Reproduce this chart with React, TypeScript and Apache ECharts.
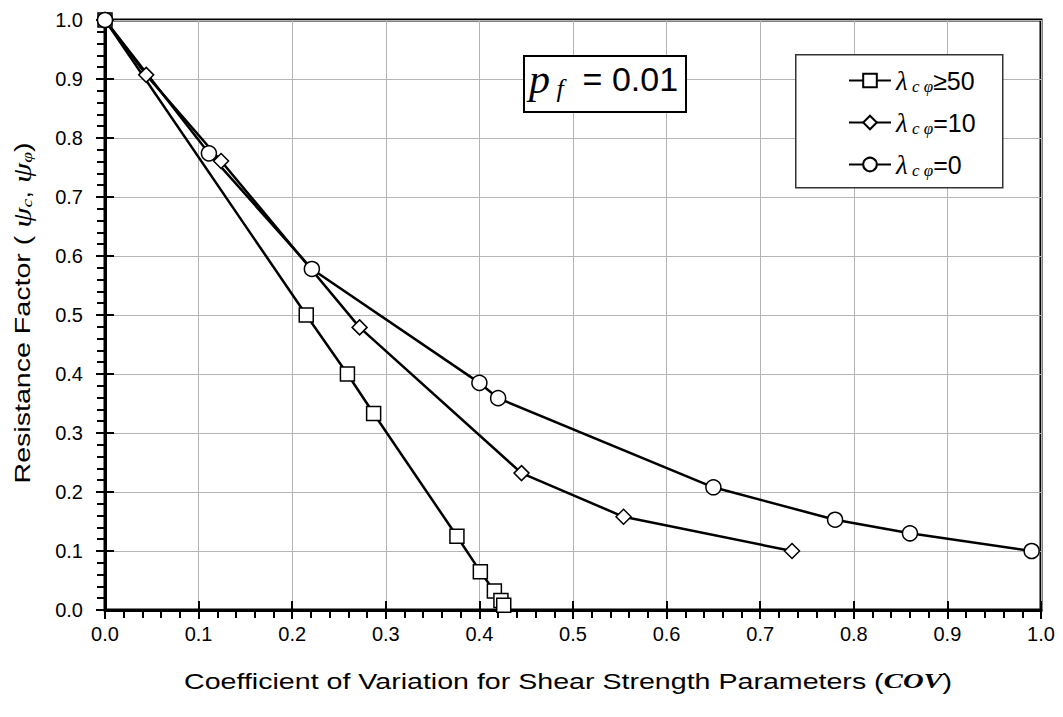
import React, { useEffect, useRef } from "react";
import * as echarts from "echarts";

const seriesNames = ["λcφ≥50", "λcφ=10", "λcφ=0"];
const seriesSuffix = ["≥50", "=10", "=0"];
const seriesSymbols = ["rect", "diamond", "circle"];

const covSquare = [0, 0.215, 0.259, 0.287, 0.376, 0.401, 0.416, 0.423, 0.426];
const psiSquare = [1.0, 0.5, 0.4, 0.333, 0.125, 0.065, 0.032, 0.016, 0.008];

const covDiamond = [0, 0.044, 0.124, 0.272, 0.445, 0.554, 0.734];
const psiDiamond = [1.0, 0.907, 0.761, 0.479, 0.232, 0.158, 0.1];

const covCircle = [0, 0.111, 0.221, 0.4, 0.42, 0.65, 0.78, 0.86, 0.99];
const psiCircle = [1.0, 0.774, 0.578, 0.385, 0.359, 0.208, 0.153, 0.13, 0.1];

const xTitle = "Coefficient of Variation for Shear Strength Parameters (";
const yTitle = "Resistance Factor ( ";

const SANS = "'Liberation Sans', Arial, sans-serif";
const SERIF = "'Liberation Serif', 'Times New Roman', serif";

export default function App() {
  const ref = useRef<HTMLDivElement>(null);
  useEffect(() => {
    document.body.style.margin = "0";
    const chart = echarts.init(ref.current!, null, { renderer: "svg" });
    const xs = [covSquare, covDiamond, covCircle];
    const ys = [psiSquare, psiDiamond, psiCircle];
    const sizes: any[] = [14, [15, 15], 15];
    const tickLine = { color: "#000", width: 2 };
    const option: any = {
      animation: false,
      backgroundColor: "#fff",
      grid: {
        left: 105,
        right: 22,
        top: 20,
        bottom: 107,
        show: true,
        borderColor: "#000",
        borderWidth: 3,
        backgroundColor: "transparent",
      },
      xAxis: [
        {
          type: "value",
          min: 0,
          max: 1,
          interval: 0.1,
          position: "bottom",
          axisLine: { show: true, lineStyle: { color: "#000", width: 3 } },
          axisTick: { show: true, length: 9, lineStyle: tickLine },
          minorTick: { show: true, splitNumber: 5, length: 8, lineStyle: tickLine },
          splitLine: { show: true, lineStyle: { color: "#b4b4b4", width: 1 } },
          axisLabel: {
            margin: 14,
            fontSize: 20,
            color: "#000",
            fontFamily: SANS,
            formatter: (v: number) => v.toFixed(1),
          },
        },
        {
          type: "value",
          min: 0,
          max: 1,
          interval: 0.1,
          position: "bottom",
          axisLine: { show: false },
          axisTick: { show: true, inside: true, length: 9, lineStyle: tickLine },
          splitLine: { show: false },
          axisLabel: { show: false },
        },
      ],
      yAxis: [
        {
          type: "value",
          min: 0,
          max: 1,
          interval: 0.1,
          position: "left",
          axisLine: { show: true, lineStyle: { color: "#000", width: 3 } },
          axisTick: { show: true, length: 9, lineStyle: tickLine },
          minorTick: { show: true, splitNumber: 5, length: 8, lineStyle: tickLine },
          splitLine: { show: true, lineStyle: { color: "#b4b4b4", width: 1 } },
          axisLabel: {
            margin: 22,
            fontSize: 20,
            color: "#000",
            fontFamily: SANS,
            formatter: (v: number) => v.toFixed(1),
          },
        },
        {
          type: "value",
          min: 0,
          max: 1,
          interval: 0.1,
          position: "left",
          axisLine: { show: false },
          axisTick: { show: true, inside: true, length: 9, lineStyle: tickLine },
          splitLine: { show: false },
          axisLabel: { show: false },
        },
      ],
      legend: {
        orient: "vertical",
        left: 843,
        top: 62,
        itemWidth: 42,
        itemHeight: 17,
        itemGap: 14,
        z: 20,
        data: seriesNames,
        formatter: (name: string) => {
          const i = seriesNames.indexOf(name);
          return "{lam|λ}{sub| c φ}{t|" + seriesSuffix[i] + "}";
        },
        textStyle: {
          rich: {
            lam: { fontFamily: SERIF, fontStyle: "italic", fontSize: 27, color: "#000" },
            sub: { fontFamily: SERIF, fontStyle: "italic", fontSize: 17, color: "#000", verticalAlign: "bottom", padding: [12, 0, 0, 0] },
            t: { fontFamily: SANS, fontSize: 25, color: "#000" },
          },
        },
      },
      graphic: [
        {
          type: "rect",
          left: 795,
          top: 54,
          shape: { width: 207, height: 133 },
          style: { fill: "#fff", stroke: "#333", lineWidth: 1.5 },
          z: 2,
        },
        {
          type: "rect",
          left: 523,
          top: 55,
          shape: { width: 162, height: 56 },
          style: { fill: "#fff", stroke: "#000", lineWidth: 2 },
          z: 2,
        },
        {
          type: "text",
          left: 529,
          top: 58,
          z: 6,
          style: {
            text: "{p|p}{f| f}{t|  = 0.01}",
            rich: {
              p: { fontFamily: SERIF, fontStyle: "italic", fontSize: 42, fill: "#000" },
              f: { fontFamily: SERIF, fontStyle: "italic", fontSize: 26, fill: "#000", verticalAlign: "bottom", padding: [18, 0, 0, 0] },
              t: { fontFamily: SANS, fontSize: 34, fill: "#000" },
            },
          },
        },
        {
          type: "text",
          x: 568,
          y: 681,
          scaleX: 1.3,
          z: 6,
          style: {
            text: xTitle + "{cov|COV}{t|)}",
            align: "center",
            verticalAlign: "middle",
            fontFamily: SANS,
            fontSize: 22,
            fill: "#000",
            rich: {
              cov: { fontFamily: SERIF, fontStyle: "italic", fontWeight: "bold", fontSize: 22, fill: "#000" },
              t: { fontFamily: SANS, fontSize: 22, fill: "#000" },
            },
          },
        },
        {
          type: "text",
          x: 22,
          y: 313,
          rotation: Math.PI / 2,
          scaleX: 1.3,
          z: 6,
          style: {
            text: yTitle + "{psi|ψ}{sub|c}{t|, }{psi|ψ}{sub|φ}{t|)}",
            align: "center",
            verticalAlign: "middle",
            fontFamily: SANS,
            fontSize: 22,
            fill: "#000",
            rich: {
              psi: { fontFamily: SERIF, fontStyle: "italic", fontSize: 25, fill: "#000" },
              sub: { fontFamily: SERIF, fontStyle: "italic", fontSize: 15, fill: "#000", verticalAlign: "bottom", padding: [10, 0, 0, 0] },
              t: { fontFamily: SANS, fontSize: 22, fill: "#000" },
            },
          },
        },
      ],
      series: seriesNames.map((name, i) => ({
        name,
        type: "line",
        xAxisIndex: 0,
        yAxisIndex: 0,
        data: xs[i].map((x, j) => [x, ys[i][j]]),
        symbol: seriesSymbols[i],
        symbolSize: sizes[i],
        showAllSymbol: true,
        lineStyle: { color: "#000", width: 2.5 },
        itemStyle: { color: "#fff", borderColor: "#000", borderWidth: 1.5 },
        z: 3,
      })),
    };
    chart.setOption(option);
    return () => chart.dispose();
  }, []);
  return <div ref={ref} style={{ position: "fixed", left: 0, top: 0, width: 1063, height: 717 }} />;
}
